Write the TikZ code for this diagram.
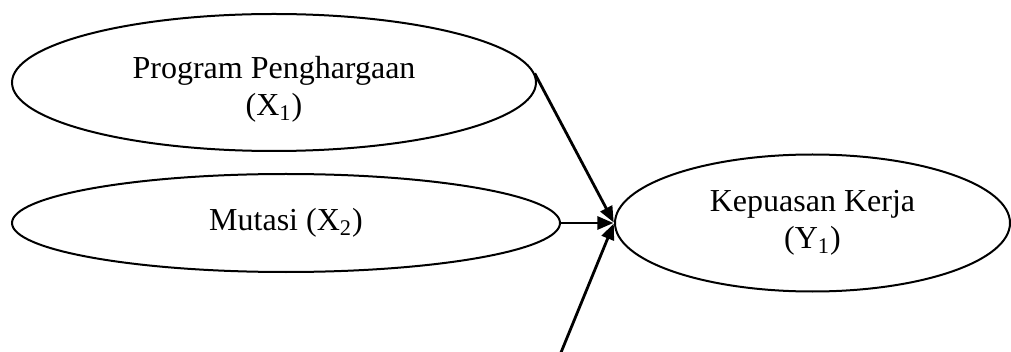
\documentclass[tikz,border=0pt]{standalone}
\usepackage{fontspec}
\setmainfont{Liberation Serif}
\usetikzlibrary{shapes.geometric,arrows.meta}
\tikzset{
  ell/.style={draw=black, line width=1pt, ellipse, inner sep=0pt, align=center,
    font=\fontsize{16}{18.5}\selectfont},
  lbl/.style={align=center, font=\fontsize{16}{18.5}\selectfont, inner sep=0pt},
  conn/.style={draw=black, line width=1.4pt, -{Triangle[length=8pt,width=6.5pt]}, shorten >=0.3pt}
}
\begin{document}
\begin{tikzpicture}[x=0.5pt,y=-0.5pt]
\clip (0,0) rectangle (1011,352);
\node[ell, minimum width=262pt, minimum height=68.5pt,
  label={[lbl, yshift=-3.25pt]center:{Program Penghargaan\\(X\textsubscript{1})}}] (e1) at (274,82.5) {};
\node[ell, minimum width=274pt, minimum height=49pt] (e2) at (286,223) {Mutasi (X\textsubscript{2})};
\node[ell, minimum width=197.5pt, minimum height=68.5pt] (ey) at (812.5,223) {Kepuasan Kerja\\(Y\textsubscript{1})};
\coordinate (c3) at (553,372);
\draw[conn] (e1.2) -- (ey.west);
\draw[conn] (e2.east) -- (ey.west);
\draw[conn] (c3) -- (ey.west);
\end{tikzpicture}
\end{document}
